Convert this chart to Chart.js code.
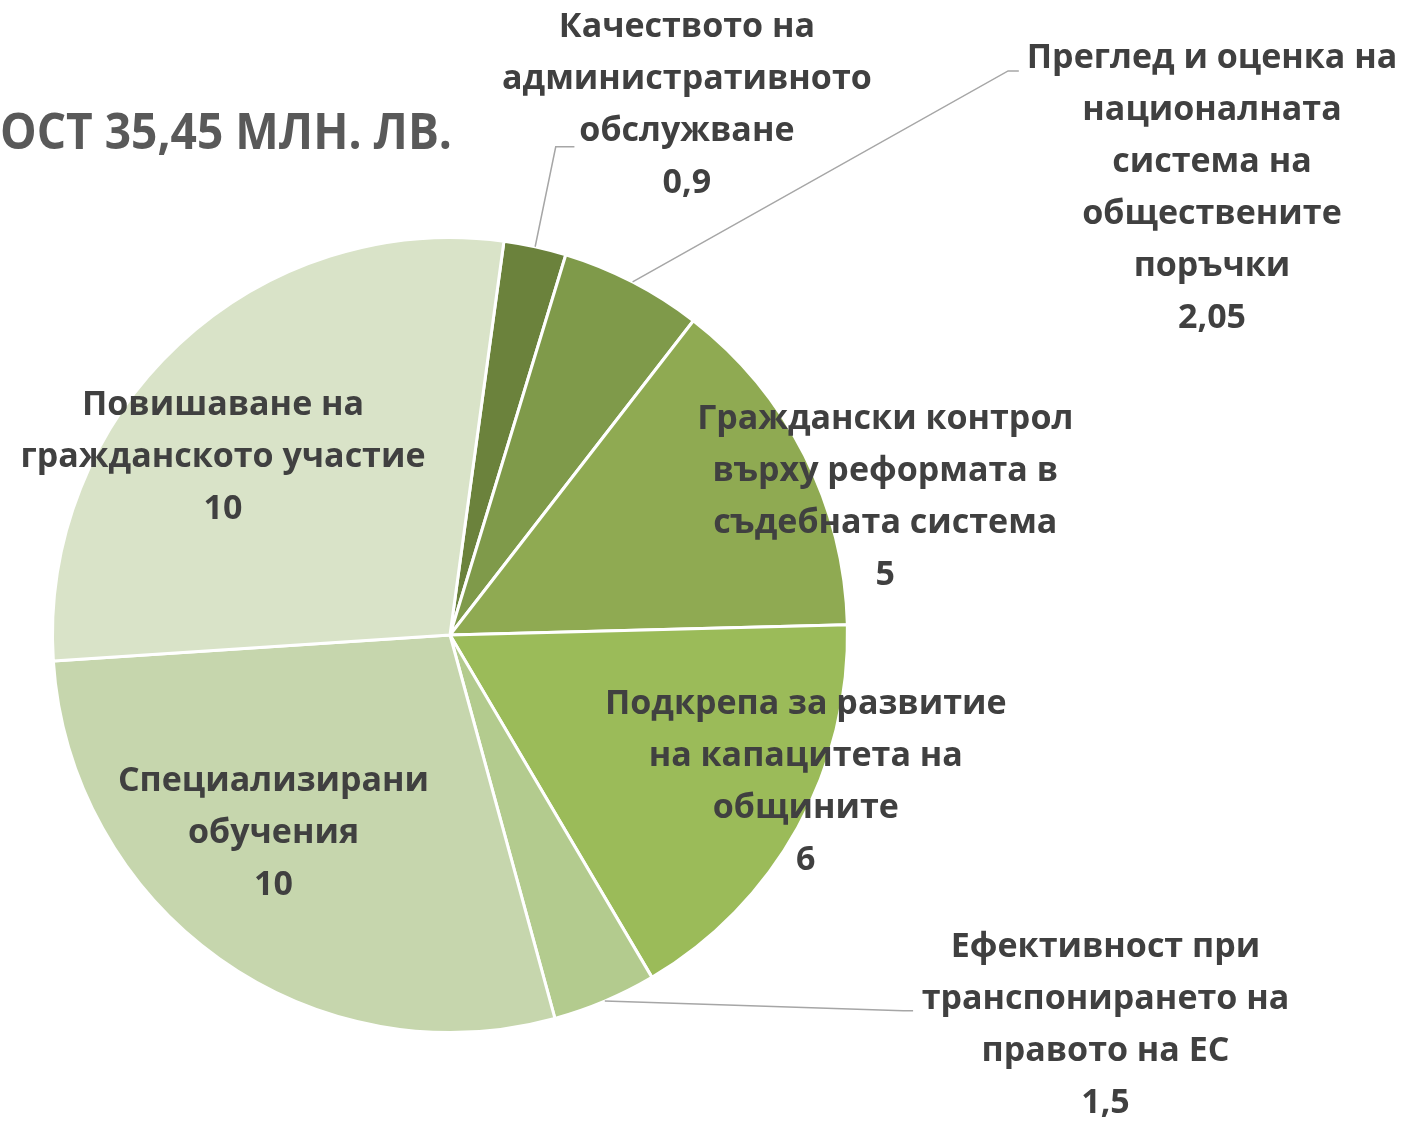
<!DOCTYPE html>
<html>
<head>
<meta charset="utf-8">
<script src="https://cdn.jsdelivr.net/npm/chart.js@4.4.1/dist/chart.umd.min.js"></script>
<style>
	html, body { margin: 0; padding: 0; background: #fff; }
	#wrap { width: 1423px; height: 1126px; }
</style>
</head>
<body>
<div id="wrap"><canvas id="pie" width="1423" height="1126"></canvas></div>
<script>
// данни
const categories = [
	['Качеството на', 'административното', 'обслужване'],
	['Преглед и оценка на', 'националната', 'система на', 'обществените', 'поръчки'],
	['Граждански контрол', 'върху реформата в', 'съдебната система'],
	['Подкрепа за развитие', 'на капацитета на', 'общините'],
	['Ефективност при', 'транспонирането на', 'правото на ЕС'],
	['Специализирани', 'обучения'],
	['Повишаване на', 'гражданското участие']
];
const values = [0.9, 2.05, 5, 6, 1.5, 10, 10];
const titleText = 'ОСТ 35,45 МЛН. ЛВ.';
const sliceColors = ['#6b823c', '#7f9a4a', '#8faa52', '#9bbb59', '#b3cb8e', '#c6d6ad', '#d9e3c8'];

// разположение на етикетите (в радиуси спрямо центъра)
const labelOffsets = [
	[0.596, -1.333], [1.917, -1.123], [1.095, -0.346], [0.895, 0.371],
	[1.649, 0.982], [-0.444, 0.499], [-0.571, -0.446]
];
// водещи линии: [индекс, чупка, край]
const leaders = [
	[0, [0.266, -1.228], [0.313, -1.228]],
	[1, [1.404, -1.419], [1.431, -1.419]],
	[4, [1.140, 0.945], [1.165, 0.945]]
];

const fmt = (v) => String(v).replace('.', ',');

const labelPlugin = {
	id: 'pieLabels',
	afterDatasetsDraw(chart) {
		const ctx = chart.ctx;
		const arcs = chart.getDatasetMeta(0).data;
		const cx = arcs[0].x, cy = arcs[0].y, r = arcs[0].outerRadius;

		ctx.save();
		// водещи линии
		ctx.strokeStyle = '#a6a6a6';
		ctx.lineWidth = 1.5;
		leaders.forEach(([i, elbow, end]) => {
			const a = arcs[i];
			const mid = (a.startAngle + a.endAngle) / 2;
			ctx.beginPath();
			ctx.moveTo(cx + Math.cos(mid) * r, cy + Math.sin(mid) * r);
			ctx.lineTo(cx + elbow[0] * r, cy + elbow[1] * r);
			ctx.lineTo(cx + end[0] * r, cy + end[1] * r);
			ctx.stroke();
		});

		// етикети
		ctx.fillStyle = '#404040';
		ctx.font = 'bold 34px "Open Sans"';
		ctx.textAlign = 'center';
		ctx.textBaseline = 'middle';
		const lh = 52;
		categories.forEach((lines, i) => {
			const all = lines.concat([fmt(values[i])]);
			const x = cx + labelOffsets[i][0] * r;
			const y0 = cy + labelOffsets[i][1] * r - (all.length - 1) * lh / 2;
			all.forEach((t, k) => ctx.fillText(t, x, y0 + k * lh));
		});

		// заглавие (по-тясно, както в оригинала)
		ctx.fillStyle = '#595959';
		ctx.font = 'bold 50px "Open Sans"';
		ctx.textAlign = 'left';
		const w = ctx.measureText(titleText).width;
		ctx.translate(0, 135);
		ctx.scale(452 / w, 1);
		ctx.fillText(titleText, 0, 0);
		ctx.restore();
	}
};

new Chart(document.getElementById('pie'), {
	type: 'pie',
	data: {
		labels: categories.map(l => l.join(' ')),
		datasets: [{
			data: values,
			backgroundColor: sliceColors,
			borderColor: '#ffffff',
			borderWidth: 3
		}]
	},
	options: {
		responsive: false,
		animation: false,
		rotation: 7.8,
		layout: { padding: { left: 51, top: 236, right: 574, bottom: 92 } },
		plugins: {
			legend: { display: false },
			tooltip: { enabled: false }
		}
	},
	plugins: [labelPlugin]
});
</script>
</body>
</html>
